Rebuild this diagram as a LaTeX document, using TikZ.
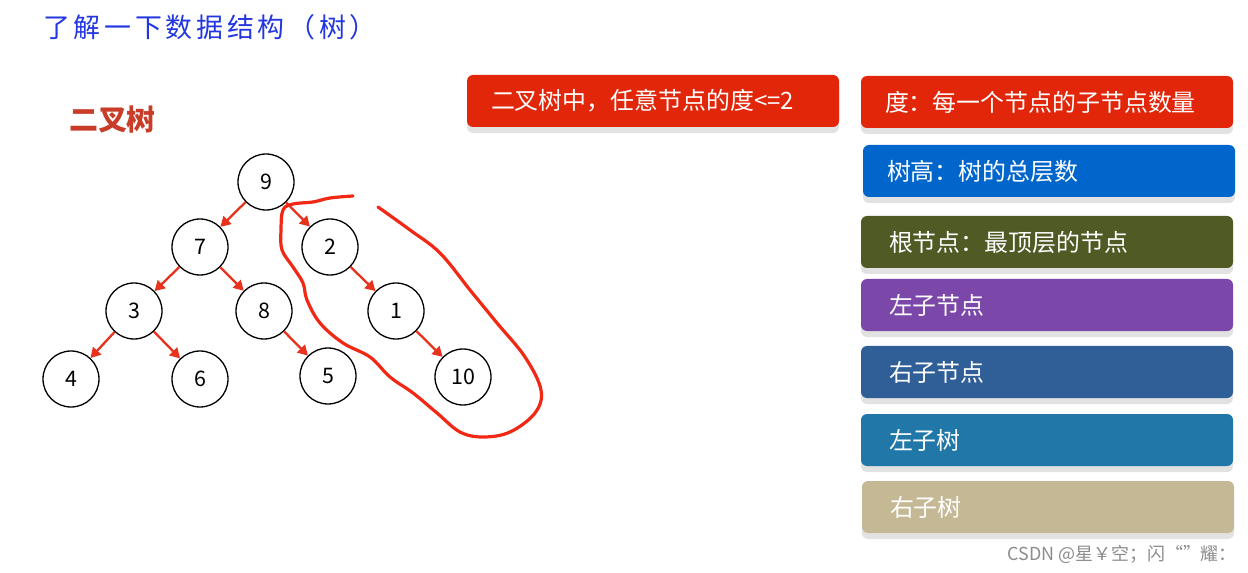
\documentclass[tikz,border=0pt]{standalone}
\usepackage{fontspec}
\setmainfont{Noto Sans CJK SC}
\newfontfamily\cjktitle[LetterSpace=14]{Noto Sans CJK SC}
\usetikzlibrary{arrows.meta,shadows}
\definecolor{titleblue}{RGB}{35,55,225}
\definecolor{headred}{RGB}{200,60,40}
\definecolor{arrowred}{RGB}{232,50,30}
\definecolor{loopred}{RGB}{240,40,20}
\definecolor{bred}{RGB}{225,38,10}
\definecolor{bblue}{RGB}{0,102,204}
\definecolor{bolive}{RGB}{80,90,36}
\definecolor{bpurple}{RGB}{123,71,168}
\definecolor{bsteel}{RGB}{48,95,152}
\definecolor{bteal}{RGB}{33,120,168}
\definecolor{btan}{RGB}{197,185,149}
\definecolor{shadowgrey}{RGB}{226,226,226}
\begin{document}
\begin{tikzpicture}[x=1bp,y=-1bp,
  tn/.style={circle,draw=black,line width=1.3bp,minimum size=56bp,inner sep=0pt,font=\fontsize{21.5}{21.5}\selectfont},
  tarrow/.style={draw=arrowred,line width=2.3bp,-{Triangle[length=10bp,width=11bp]}},
  box/.style={rounded corners=6bp,text=white,font=\fontsize{24}{24}\selectfont,minimum height=52bp,inner ysep=0pt,inner xsep=24bp,text width=324bp,align=left,drop shadow={shadow xshift=0bp,shadow yshift=-6bp,fill=shadowgrey,opacity=1}},
  boxw/.style={box,inner xsep=28bp,text width=316bp}
]
\useasboundingbox[fill=white] (0,0) rectangle (1248,573);

\node[anchor=west,text=titleblue,font=\fontsize{27}{27}\selectfont\cjktitle,inner sep=0pt] (title) at (43,27) {了解一下数据结构（树）};
\node[anchor=west,text=headred,font=\fontsize{29}{29}\selectfont\bfseries,inner sep=0pt] (head) at (69,120) {二叉树};

% tree
\node[tn] (n9) at (266,182) {9};
\node[tn] (n7) at (200,247) {7};
\node[tn] (n2) at (330,247) {2};
\node[tn] (n3) at (134,311) {3};
\node[tn] (n8) at (264,311) {8};
\node[tn] (n1) at (396,311) {1};
\node[tn] (n4) at (71,379) {4};
\node[tn] (n6) at (200,379) {6};
\node[tn] (n5) at (328,376) {5};
\node[tn] (n10) at (463,377) {10};
\draw[tarrow] (n9) -- (n7);
\draw[tarrow] (n9) -- (n2);
\draw[tarrow] (n7) -- (n3);
\draw[tarrow] (n7) -- (n8);
\draw[tarrow] (n3) -- (n4);
\draw[tarrow] (n3) -- (n6);
\draw[tarrow] (n8) -- (n5);
\draw[tarrow] (n2) -- (n1);
\draw[tarrow] (n1) -- (n10);

% hand-drawn loop
\draw[loopred,line width=3.2bp,line cap=round,line join=round]
  plot[smooth,tension=0.6] coordinates {(353,196) (330,198) (313,202) (293,204) (283,210) (281,230) (282,250) (293,267) (303,283) (307,300) (320,323) (343,343) (370,357) (390,377) (413,393) (437,413) (460,432) (483,437) (510,432) (535,413) (541,390) (525,357) (497,323) (470,290) (440,253) (410,230) (378,207)};

% boxes
\node[box,fill=bred] (b0) at (653,101) {二叉树中，任意节点的度<=2};
\node[box,fill=bred] (b1) at (1047,102) {度：每一个节点的子节点数量};
\node[box,fill=bblue] (b2) at (1049,171) {树高：树的总层数};
\node[boxw,fill=bolive] (b3) at (1047,242) {根节点：最顶层的节点};
\node[boxw,fill=bpurple] (b4) at (1047,305) {左子节点};
\node[boxw,fill=bsteel] (b5) at (1047,372) {右子节点};
\node[boxw,fill=bteal] (b6) at (1047,440) {左子树};
\node[boxw,fill=btan] (b7) at (1048,507) {右子树};

\node[anchor=east,text=black!45,font=\fontsize{18}{18}\selectfont,inner sep=0pt] (wm) at (1237,554) {CSDN @星￥空；闪“”耀：};
\end{tikzpicture}
\end{document}
